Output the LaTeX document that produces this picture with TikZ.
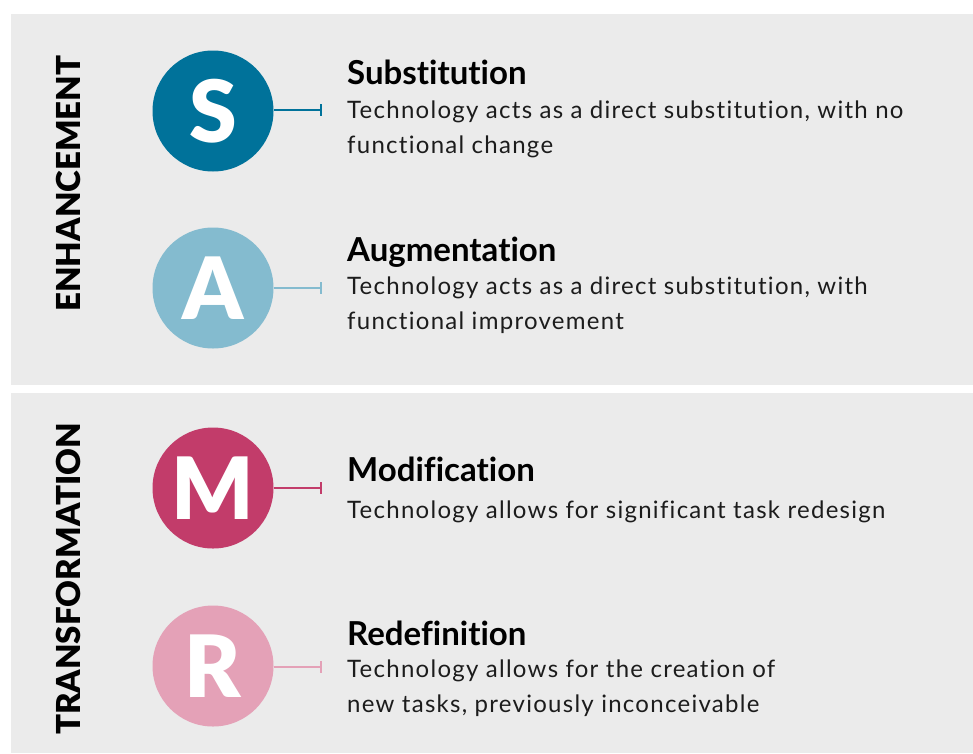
\documentclass[tikz,border=0pt]{standalone}
\usepackage{fontspec}
\setmainfont{Lato}[LetterSpace=5.3,Ligatures=NoCommon]
\newfontfamily\headfont{Lato}[Ligatures=NoCommon]
\IfFontExistsTF{Lato Black}{\newfontfamily\heavy{Lato Black}}{\newcommand\heavy{\bfseries}}
\usepackage{tikz}
\usetikzlibrary{arrows.meta}
\definecolor{sblue}{HTML}{00729A}
\definecolor{ablue}{HTML}{84BBCF}
\definecolor{mred}{HTML}{C23C6A}
\definecolor{rpink}{HTML}{E4A1B7}
\definecolor{panel}{HTML}{EBEBEB}
\definecolor{ink}{HTML}{1C1C1C}

\begin{document}
\begin{tikzpicture}[x=1pt,y=-1pt,
	letter/.style ={circle, fill=#1, minimum size=121pt, inner sep=0pt, text=white, font=\heavy\fontsize{86}{86}\selectfont},
	side/.style ={rotate=90, text=black, font=\heavy\fontsize{33}{33}\selectfont},
	title/.style ={anchor=base west, inner sep=0pt, text=black, font=\headfont\bfseries\fontsize{33}{33}\selectfont},
	body/.style ={anchor=base west, inner sep=0pt, align=left, text=ink, font=\fontsize{24}{35}\selectfont},
	link/.style ={line width=2pt, -{Bar[width=12pt,line width=2pt]}}]
		\useasboundingbox (0,0) rectangle (973,753);
		\fill[white] (0,0) rectangle (973,753);
		\fill[panel] (11,14) rectangle (973,385);
		\fill[panel] (11,393) rectangle (973,753);
		\node[side] (enh) at (68.5,183.5) {ENHANCEMENT};
		\node[side] (tra) at (68.5,579) {TRANSFORMATION};
		\node[letter=sblue] (s) at (213,111) {S};
		\node[letter=ablue] (a) at (213,288) {A};
		\node[letter=mred] (m) at (213,488) {M};
		\node[letter=rpink] (r) at (213,666) {R};
		\coordinate (sx) at (322,110);
		\coordinate (ax) at (322,288);
		\coordinate (mx) at (322,488);
		\coordinate (rx) at (322,667);
		\draw[link, sblue] (s.east |- sx) -- (sx);
		\draw[link, ablue] (a) -- (ax);
		\draw[link, mred] (m) -- (mx);
		\draw[link, rpink] (r.east |- rx) -- (rx);
		\node[title] (st) at (347,84) {Substitution};
		\node[body] (sb) at (347,153) {Technology acts as a direct substitution, with no\\functional change};
		\node[title] (at) at (347,261) {Augmentation};
		\node[body] (ab) at (347,329) {Technology acts as a direct substitution, with\\functional improvement};
		\node[title] (mt) at (347,481) {Modification};
		\node[body] (mb) at (347,518) {Technology allows for significant task redesign};
		\node[title] (rt) at (347,645) {Redefinition};
		\node[body] (rb) at (347,712) {Technology allows for the creation of\\new tasks, previously inconceivable};
	\end{tikzpicture}
\end{document}
